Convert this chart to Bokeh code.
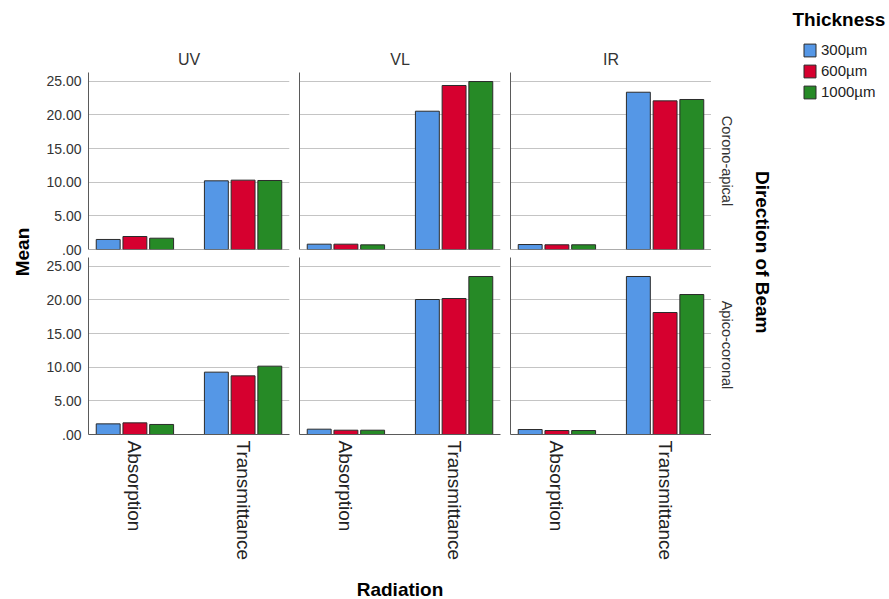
import math
from bokeh.plotting import figure
from bokeh.models import ColumnDataSource, FactorRange, Range1d, FixedTicker, Legend, LegendItem, Span
from bokeh.transform import dodge
from bokeh.layouts import row, column
from bokeh.core.properties import value
from bokeh.embed import file_html
from bokeh.resources import INLINE

# ---------------- data ----------------
wavelengths = ["UV", "VL", "IR"]
directions = ["Corono-apical", "Apico-coronal"]
radiation = ["Absorption", "Transmittance"]
thickness = ["300µm", "600µm", "1000µm"]

# order of values: UV-Absorption, UV-Transmittance, VL-Absorption, VL-Transmittance, IR-Absorption, IR-Transmittance
corono_300 = [1.49, 10.20, 0.79, 20.54, 0.74, 23.36]
corono_600 = [1.93, 10.30, 0.79, 24.36, 0.70, 22.08]
corono_1000 = [1.68, 10.25, 0.69, 24.95, 0.70, 22.28]
apico_300 = [1.58, 9.26, 0.79, 20.05, 0.74, 23.47]
apico_600 = [1.73, 8.71, 0.64, 20.20, 0.59, 18.12]
apico_1000 = [1.49, 10.15, 0.64, 23.47, 0.59, 20.79]

y_ticks = [0, 5, 10, 15, 20, 25]
y_tick_labels = [".00", "5.00", "10.00", "15.00", "20.00", "25.00"]

colors = ["#5597e6", "#d6002f", "#268a26"]
series = {"Corono-apical": [corono_300, corono_600, corono_1000],
          "Apico-coronal": [apico_300, apico_600, apico_1000]}

FONT = "Liberation Sans"
AXIS_COLOR = "#5a5a5a"
offsets = [-0.247, 0.0, 0.247]

widths = [258, 211, 206]
left_b = [52, 5, 5]
right_b = [5, 5, 0]
row_h = [257, 312]
top_b = [72, 0]
bottom_b = [8, 135]
STRIP_H = 30

rows = []
for r, d in enumerate(directions):
    figs = []
    for c, w in enumerate(wavelengths):
        p = figure(width=widths[c], height=row_h[r],
                   x_range=FactorRange(factors=radiation, range_padding=-0.071,
                                       range_padding_units="absolute"),
                   y_range=Range1d(0, 26.29),
                   output_backend="svg", toolbar_location=None,
                   min_border_left=left_b[c], min_border_right=right_b[c],
                   min_border_top=top_b[r], min_border_bottom=bottom_b[r],
                   x_axis_location=("below" if r == 1 else None),
                   title=(w if r == 0 else None))
        p.outline_line_color = None
        p.background_fill_color = "white"
        p.border_fill_color = "white"
        if r == 0:
            p.title.align = "center"
            p.title.text_font = FONT
            p.title.text_font_size = "16px"
            p.title.text_font_style = "normal"
            p.title.text_color = "#333333"
            p.title.standoff = 9
        data = {"radiation": radiation}
        for k in range(3):
            data["t%d" % k] = series[d][k][2 * c:2 * c + 2]
        src = ColumnDataSource(data)
        for k in range(3):
            p.vbar(x=dodge("radiation", offsets[k], range=p.x_range), top="t%d" % k,
                   width=0.221, source=src, fill_color=colors[k],
                   line_color="#2b2b2b", line_width=1)
        # grids
        p.xgrid.grid_line_color = None
        p.ygrid.ticker = FixedTicker(ticks=y_ticks)
        p.ygrid.grid_line_color = "#c4c4c4"
        p.ygrid.grid_line_width = 1
        # y axis
        p.yaxis.major_tick_out = 0
        p.yaxis.major_tick_in = 0
        p.yaxis.minor_tick_out = 0
        p.yaxis.minor_tick_in = 0
        p.yaxis.axis_line_color = AXIS_COLOR
        if c == 0:
            p.yaxis.ticker = FixedTicker(ticks=y_ticks)
            p.yaxis.major_label_overrides = dict(zip(y_ticks, y_tick_labels))
            p.yaxis.major_label_text_font = FONT
            p.yaxis.major_label_text_font_size = "14px"
            p.yaxis.major_label_text_color = "#333333"
            p.yaxis.major_label_standoff = 7
        else:
            p.yaxis.ticker = FixedTicker(ticks=[])
            p.yaxis.major_label_standoff = 0
        # x axis
        if r == 0:
            p.add_layout(Span(location=0, dimension="width",
                              line_color=AXIS_COLOR, line_width=1))
        else:
            p.xaxis.major_tick_out = 0
            p.xaxis.major_tick_in = 0
            p.xaxis.axis_line_color = AXIS_COLOR
            p.xaxis.major_label_orientation = -math.pi / 2
            p.xaxis.major_label_text_font = FONT
            p.xaxis.major_label_text_font_size = "19px"
            p.xaxis.major_label_text_color = "#222222"
            p.xaxis.major_label_standoff = 6
        figs.append(p)
    rows.append(row(*figs))

# bottom strip with the shared x-axis title
grid_w = sum(widths)
bf = figure(width=grid_w, height=STRIP_H, x_range=Range1d(0, grid_w), y_range=Range1d(0, STRIP_H),
            min_border=0, toolbar_location=None, output_backend="svg",
            x_axis_location=None, y_axis_location=None)
bf.grid.grid_line_color = None
bf.outline_line_color = None
bf.text(x=[363.5], y=[10], text=["Radiation"], text_align="center",
        text_baseline="middle", text_font=value(FONT), text_font_size="19px",
        text_font_style="bold", text_color="#000000")
grid = column(*rows, bf)

# left label panel
lf = figure(width=36, height=599, x_range=Range1d(0, 36), y_range=Range1d(0, 599),
            min_border=0, toolbar_location=None, output_backend="svg",
            x_axis_location=None, y_axis_location=None)
lf.grid.grid_line_color = None
lf.outline_line_color = None
lf.text(x=[22], y=[347.5], text=["Mean"], angle=math.pi / 2,
        text_align="center", text_baseline="middle", text_font=value(FONT),
        text_font_size="19px", text_font_style="bold", text_color="#000000")

# right label / legend panel
rf = figure(width=178, height=599, x_range=Range1d(0, 178), y_range=Range1d(0, 599),
            min_border=0, toolbar_location=None, output_backend="svg",
            x_axis_location=None, y_axis_location=None)
rf.grid.grid_line_color = None
rf.outline_line_color = None
rf.text(x=[15, 15], y=[438.5, 254.5], text=directions, angle=-math.pi / 2,
        text_align="center", text_baseline="middle", text_font=value(FONT),
        text_font_size="14.5px", text_color="#333333")
rf.text(x=[51.3], y=[347.3], text=["Direction of Beam"], angle=-math.pi / 2,
        text_align="center", text_baseline="middle", text_font=value(FONT),
        text_font_size="19px", text_font_style="bold", text_color="#000000")
rf.text(x=[81], y=[580], text=["Thickness"], text_align="left",
        text_baseline="middle", text_font=value(FONT),
        text_font_size="19px", text_font_style="bold", text_color="#000000")
# legend proxies (one point placed outside the visible range so only the legend swatch shows)
items = []
for k in range(3):
    rr = rf.vbar(x=[-1000], top=[0], width=1, fill_color=colors[k],
                 line_color="#2b2b2b", line_width=1)
    items.append(LegendItem(label=thickness[k], renderers=[rr]))
legend = Legend(items=items, location=(91, 499), orientation="vertical",
                glyph_width=15, glyph_height=16, label_height=16, label_standoff=4,
                spacing=4, padding=0, margin=0, border_line_color=None,
                background_fill_alpha=0, label_text_font=FONT,
                label_text_font_size="15px", label_text_color="#222222")
rf.add_layout(legend)

layout = row(lf, grid, rf)
open("out.html", "w").write(file_html(layout, INLINE))
